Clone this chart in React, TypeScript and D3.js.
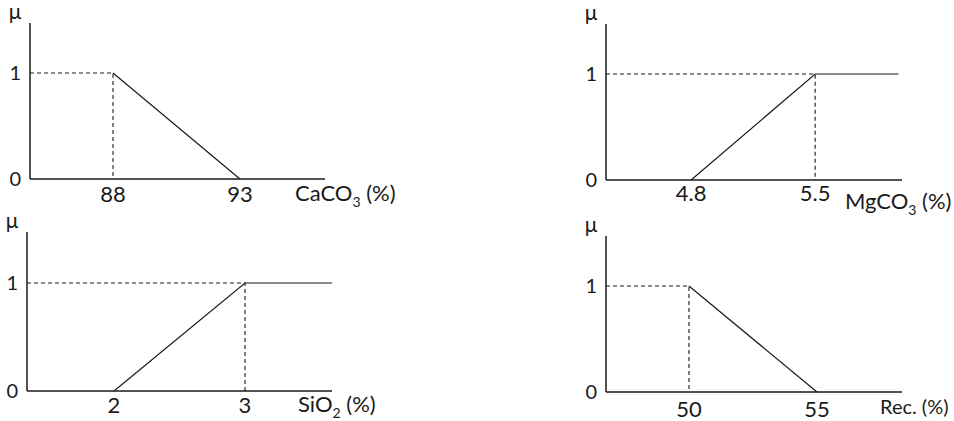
import React from 'react';
import * as d3 from 'd3';

// fuzzy membership functions, one per variable
const titles = [['CaCO', '3'], ['MgCO', '3'], ['SiO', '2'], ['Rec.', '']];
const xTicks = [[88, 93], [4.8, 5.5], [2, 3], [50, 55]];
const xExtents = [[84.73, 96.35], [4.32, 5.99], [1.336, 3.664], [46.76, 58.32]];
const kneeValues = [88, 5.5, 3, 50];
const curves = [
    [[88, 1], [93, 0]],
    [[4.8, 0], [5.5, 1], [5.97, 1]],
    [[2, 0], [3, 1], [3.664, 1]],
    [[50, 1], [55, 0]]
];
const yTicks = [0, 1];

const frames = [
    { left: 30, right: 325, top: 23, one: 73, base: 179, tickDy: 23, titleX: 295, titleDy: 22 },
    { left: 606, right: 902, top: 24, one: 74, base: 180, tickDy: 21, titleX: 845, titleDy: 29 },
    { left: 27, right: 332, top: 232, one: 283, base: 391, tickDy: 22, titleX: 298, titleDy: 21 },
    { left: 606, right: 902, top: 236, one: 286, base: 392, tickDy: 25, titleX: 880, titleDy: 22 }
];

const ink = '#1a1a1a';
const font = 'Lato, "Open Sans", sans-serif';

function Panel({ index }) {
    const f = frames[index];
    const x = d3.scaleLinear().domain(xExtents[index]).range([f.left, f.right]);
    const y = d3.scaleLinear().domain([0, 1]).range([f.base, f.one]);
    const line = d3.line().x(d => x(d[0])).y(d => y(d[1]));
    const knee = kneeValues[index];
    const [name, sub] = titles[index];
    return (
        <g fontFamily={font} fill={ink}>
            {/* axes */}
            <line x1={f.left} x2={f.left} y1={f.top} y2={f.base} stroke={ink} strokeWidth={1.5} />
            <line x1={f.left} x2={f.right} y1={f.base} y2={f.base} stroke={ink} strokeWidth={1.5} />
            {/* dashed guides */}
            <path
                d={line([[xExtents[index][0], 1], [knee, 1], [knee, 0]])}
                fill="none" stroke={ink} strokeWidth={1.1} strokeDasharray="4,3"
            />
            <path d={line(curves[index])} fill="none" stroke={ink} strokeWidth={1.2} />
            <text x={f.left - 15} y={f.top - 4} fontSize={21} textAnchor="middle">μ</text>
            {yTicks.map(t => (
                <text key={t} x={f.left - 9} y={y(t)} dy="0.35em" fontSize={20} textAnchor="end">{t}</text>
            ))}
            {xTicks[index].map(t => (
                <text key={t} x={x(t)} y={f.base + f.tickDy} fontSize={22} textAnchor="middle">{t}</text>
            ))}
            <text x={f.titleX} y={f.base + f.titleDy} fontSize={index === 3 ? 20 : 22}>
                {name}
                {sub ? <tspan fontSize={14} dy={6}>{sub}</tspan> : null}
                <tspan dy={sub ? -6 : 0}>{' (%)'}</tspan>
            </text>
        </g>
    );
}

export default function App() {
    return (
        <svg width={954} height={421} style={{ position: 'absolute', left: 0, top: 0, background: '#fff' }}>
            {frames.map((f, i) => <Panel key={i} index={i} />)}
        </svg>
    );
}
